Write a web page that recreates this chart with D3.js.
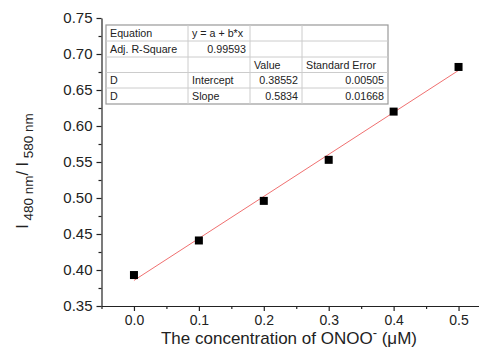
<!DOCTYPE html>
<html>
<head>
<meta charset="utf-8">
<script src="https://cdn.jsdelivr.net/npm/d3@7"></script>
<style>
  body { margin: 0; background: #fff; }
  svg { display: block; font-family: Arial, "Liberation Sans", sans-serif; }
</style>
</head>
<body>
<svg id="chart" width="479" height="348"></svg>
<script>
// measured data
const concentration = [0.0, 0.1, 0.2, 0.3, 0.4, 0.5];
const ratio = [0.393, 0.441, 0.496, 0.553, 0.620, 0.682];

// linear fit results shown in the table
const intercept = 0.38552;
const slope = 0.5834;
const fitRange = [0.0, 0.5];

const xTicks = [0.0, 0.1, 0.2, 0.3, 0.4, 0.5];
const yTicks = [0.35, 0.40, 0.45, 0.50, 0.55, 0.60, 0.65, 0.70, 0.75];

const tableRows = [
  ["Equation", "y = a + b*x", "", ""],
  ["Adj. R-Square", "0.99593", "", ""],
  ["", "", "Value", "Standard Error"],
  ["D", "Intercept", "0.38552", "0.00505"],
  ["D", "Slope", "0.5834", "0.01668"]
];

const svg = d3.select('#chart');
const plotLeft = 101.5, plotBottom = 306, plotTop = 18, plotRight = 491;

const x = d3.scaleLinear().domain([-0.05, 0.55]).range([plotLeft, plotRight]);
const y = d3.scaleLinear().domain([0.35, 0.75]).range([plotBottom, plotTop]);

// x axis
const xAxis = svg.append('g')
  .attr('transform', `translate(0,${plotBottom})`)
  .call(d3.axisBottom(x).tickValues(xTicks).tickFormat(d3.format('.1f')).tickSize(5).tickSizeOuter(0));
svg.append('g')
  .attr('transform', `translate(0,${plotBottom})`)
  .call(d3.axisBottom(x).tickValues(d3.range(-0.05, 0.56, 0.1)).tickFormat('').tickSize(3).tickSizeOuter(0))
  .select('.domain').remove();
xAxis.selectAll('text').attr('font-size', 14).attr('y', 6).attr('dy', '0.92em').attr('fill', '#222');

// y axis
const yAxis = svg.append('g')
  .attr('transform', `translate(${plotLeft},0)`)
  .call(d3.axisLeft(y).tickValues(yTicks).tickFormat(d3.format('.2f')).tickSize(5).tickSizeOuter(0));
svg.append('g')
  .attr('transform', `translate(${plotLeft},0)`)
  .call(d3.axisLeft(y).tickValues(d3.range(0.375, 0.75, 0.05)).tickFormat('').tickSize(3).tickSizeOuter(0))
  .select('.domain').remove();
yAxis.selectAll('text').attr('font-size', 15).attr('x', -9).attr('fill', '#222');

svg.selectAll('.domain, .tick line').attr('stroke', '#222').attr('stroke-width', 1.2);

// fit line
svg.append('line')
  .attr('x1', x(fitRange[0])).attr('y1', y(intercept + slope * fitRange[0]))
  .attr('x2', x(fitRange[1])).attr('y2', y(intercept + slope * fitRange[1]))
  .attr('stroke', '#f07070').attr('stroke-width', 1);

// points
svg.selectAll('.pt')
  .data(concentration)
  .enter().append('rect')
  .attr('class', 'pt')
  .attr('x', (d) => x(d) - 4)
  .attr('y', (d, i) => y(ratio[i]) - 4)
  .attr('width', 8).attr('height', 8)
  .attr('fill', '#000');

// fit table
const colX = [106, 188, 250, 302, 388];
const rowY = [25, 41, 57, 72.5, 88, 104];
const tbl = svg.append('g');
tbl.append('rect')
  .attr('x', colX[0]).attr('y', rowY[0])
  .attr('width', colX[4] - colX[0]).attr('height', rowY[5] - rowY[0])
  .attr('fill', '#fff').attr('stroke', '#999').attr('stroke-width', 1.2);
colX.slice(1, 4).forEach(cx => {
  tbl.append('line').attr('x1', cx).attr('x2', cx).attr('y1', rowY[0]).attr('y2', rowY[5])
    .attr('stroke', '#ccc');
});
rowY.slice(1, 5).forEach(ry => {
  tbl.append('line').attr('x1', colX[0]).attr('x2', colX[4]).attr('y1', ry).attr('y2', ry)
    .attr('stroke', '#ccc');
});
tableRows.forEach((row, r) => {
  row.forEach((cell, c) => {
    if (!cell) return;
    const numeric = (r >= 3 && c >= 2) || (r === 1 && c === 1);
    tbl.append('text')
      .attr('x', numeric ? colX[c + 1] - 4 : colX[c] + 4)
      .attr('y', (rowY[r] + rowY[r + 1]) / 2 + 4)
      .attr('text-anchor', numeric ? 'end' : 'start')
      .attr('font-size', 10.7)
      .attr('fill', '#222')
      .text(cell);
  });
});

// axis titles
const xt = svg.append('text')
  .attr('x', 289).attr('y', 344)
  .attr('text-anchor', 'middle')
  .attr('font-size', 17)
  .attr('fill', '#222');
xt.append('tspan').text('The concentration of ONOO');
xt.append('tspan').attr('font-size', 13).attr('dy', -7).text('-');
xt.append('tspan').attr('dy', 7).text(' (\u03BCM)');

const yt = svg.append('text')
  .attr('transform', 'translate(28,171) rotate(-90)')
  .attr('text-anchor', 'middle')
  .attr('font-size', 16)
  .attr('fill', '#222');
yt.append('tspan').text('I');
yt.append('tspan').attr('font-size', 13.5).attr('dy', 5).text(' 480 nm');
yt.append('tspan').attr('dy', -5).text('/');
yt.append('tspan').text(' I');
yt.append('tspan').attr('font-size', 13.5).attr('dy', 5).text(' 580 nm');
</script>
</body>
</html>
